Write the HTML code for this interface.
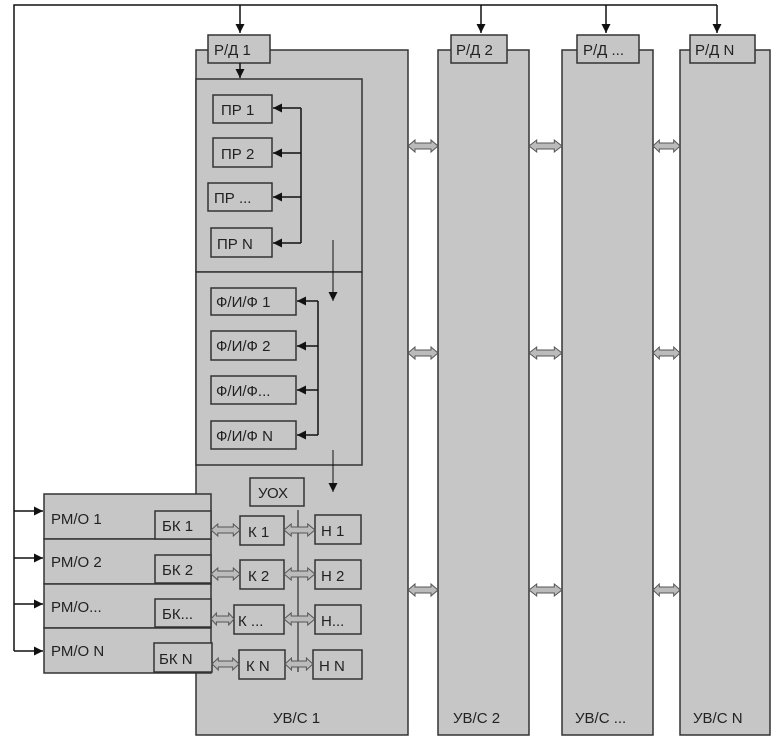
<!DOCTYPE html>
<html><head><meta charset="utf-8"><style>
html,body{margin:0;padding:0;background:#fff;}
svg{display:block;font-family:"Liberation Sans",sans-serif;}
text{font-size:15px;fill:#222;}
</style></head><body>
<svg width="779" height="742" viewBox="0 0 779 742">
<defs>
<marker id="ah" viewBox="0 0 10 10" refX="10" refY="5" markerWidth="9" markerHeight="9" markerUnits="userSpaceOnUse" orient="auto"><path d="M0,0 L10,5 L0,10 z" fill="#111"/></marker>
<path id="da" d="M0,0 L7,-6 L7,-3 L23,-3 L23,-6 L30,0 L23,6 L23,3 L7,3 L7,6 Z" fill="#bbb" stroke="#555" stroke-width="1" vector-effect="non-scaling-stroke"/>
</defs>
<g stroke="#111" stroke-width="1.5" fill="none">
<polyline points="14,651 14,5 717,5"/>
<line x1="240" y1="5" x2="240" y2="33" marker-end="url(#ah)"/>
<line x1="481" y1="5" x2="481" y2="33" marker-end="url(#ah)"/>
<line x1="606" y1="5" x2="606" y2="33" marker-end="url(#ah)"/>
<line x1="717" y1="5" x2="717" y2="33" marker-end="url(#ah)"/>
</g>
<g fill="#c6c6c6" stroke="#333" stroke-width="1.5">
<rect x="196" y="50" width="212" height="685"/>
<rect x="438" y="50" width="91" height="685"/>
<rect x="562" y="50" width="91" height="685"/>
<rect x="680" y="50" width="90" height="685"/>
<rect x="196" y="79" width="166" height="193"/>
<rect x="196" y="272" width="166" height="193"/>
<rect x="208" y="35" width="62" height="28"/>
<rect x="451" y="35" width="56" height="28"/>
<rect x="577" y="35" width="62" height="28"/>
<rect x="690" y="35" width="65" height="28"/>
<rect x="213" y="95" width="59" height="28"/>
<rect x="213" y="138" width="59" height="29"/>
<rect x="208" y="183" width="64" height="28"/>
<rect x="211" y="228" width="61" height="29"/>
<rect x="211" y="288" width="85" height="27"/>
<rect x="211" y="331" width="85" height="29"/>
<rect x="211" y="376" width="85" height="28"/>
<rect x="211" y="421" width="85" height="28"/>
<rect x="250" y="478" width="54" height="28"/>
<rect x="44" y="494" width="167" height="45"/>
<rect x="44" y="539" width="167" height="45"/>
<rect x="44" y="584" width="167" height="44"/>
<rect x="44" y="628" width="167" height="45"/>
<rect x="155" y="511" width="56" height="28"/>
<rect x="155" y="555" width="56" height="28"/>
<rect x="155" y="599" width="56" height="28"/>
<rect x="154" y="643" width="58" height="29"/>
<rect x="240" y="516" width="44" height="29"/>
<rect x="240" y="560" width="44" height="29"/>
<rect x="234" y="605" width="50" height="29"/>
<rect x="239" y="650" width="46" height="29"/>
<rect x="315" y="515" width="46" height="29"/>
<rect x="315" y="560" width="46" height="29"/>
<rect x="315" y="605" width="46" height="29"/>
<rect x="313" y="650" width="49" height="29"/>
</g>
<g stroke="#111" stroke-width="1.5" fill="none">
<line x1="240" y1="63" x2="240" y2="78" marker-end="url(#ah)"/>
<polyline points="301,108 301,243"/>
<line x1="301" y1="108" x2="273" y2="108" marker-end="url(#ah)"/>
<line x1="301" y1="153" x2="273" y2="153" marker-end="url(#ah)"/>
<line x1="301" y1="197" x2="273" y2="197" marker-end="url(#ah)"/>
<line x1="301" y1="243" x2="273" y2="243" marker-end="url(#ah)"/>
<line x1="333" y1="240" x2="333" y2="301" marker-end="url(#ah)" stroke-width="1"/>
<polyline points="318,301 318,435"/>
<line x1="318" y1="301" x2="297" y2="301" marker-end="url(#ah)"/>
<line x1="318" y1="346" x2="297" y2="346" marker-end="url(#ah)"/>
<line x1="318" y1="390" x2="297" y2="390" marker-end="url(#ah)"/>
<line x1="318" y1="435" x2="297" y2="435" marker-end="url(#ah)"/>
<line x1="333" y1="450" x2="333" y2="492" marker-end="url(#ah)" stroke-width="1"/>
<line x1="298" y1="510" x2="298" y2="672" stroke-width="1"/>
<line x1="14" y1="511" x2="43" y2="511" marker-end="url(#ah)"/>
<line x1="14" y1="558" x2="43" y2="558" marker-end="url(#ah)"/>
<line x1="14" y1="604" x2="43" y2="604" marker-end="url(#ah)"/>
<line x1="14" y1="651" x2="43" y2="651" marker-end="url(#ah)"/>
</g>
<g>
<use href="#da" transform="translate(408,146) scale(1,1)"/>
<use href="#da" transform="translate(529,146) scale(1.1,1)"/>
<use href="#da" transform="translate(653,146) scale(0.9,1)"/>
<use href="#da" transform="translate(408,353) scale(1,1)"/>
<use href="#da" transform="translate(529,353) scale(1.1,1)"/>
<use href="#da" transform="translate(653,353) scale(0.9,1)"/>
<use href="#da" transform="translate(408,590) scale(1,1)"/>
<use href="#da" transform="translate(529,590) scale(1.1,1)"/>
<use href="#da" transform="translate(653,590) scale(0.9,1)"/>
<use href="#da" transform="translate(211,530) scale(0.97,1)"/>
<use href="#da" transform="translate(211,574) scale(0.97,1)"/>
<use href="#da" transform="translate(211,619) scale(0.77,1)"/>
<use href="#da" transform="translate(212,664) scale(0.9,1)"/>
<use href="#da" transform="translate(284,530) scale(1.03,1)"/>
<use href="#da" transform="translate(284,574) scale(1.03,1)"/>
<use href="#da" transform="translate(284,619) scale(1.03,1)"/>
<use href="#da" transform="translate(285,664) scale(0.93,1)"/>
</g>
<g>
<text x="214" y="55">Р/Д  1</text>
<text x="456" y="55">Р/Д 2</text>
<text x="583" y="55">Р/Д ...</text>
<text x="695" y="55">Р/Д N</text>
<text x="221" y="115">ПР 1</text>
<text x="221" y="159">ПР 2</text>
<text x="214" y="203">ПР ...</text>
<text x="217" y="249">ПР N</text>
<text x="216" y="307">Ф/И/Ф  1</text>
<text x="216" y="351">Ф/И/Ф  2</text>
<text x="216" y="396">Ф/И/Ф...</text>
<text x="216" y="441">Ф/И/Ф  N</text>
<text x="258" y="498">УОХ</text>
<text x="51" y="524">РМ/О 1</text>
<text x="51" y="567">РМ/О 2</text>
<text x="51" y="612">РМ/О...</text>
<text x="51" y="656">РМ/О N</text>
<text x="162" y="531">БК 1</text>
<text x="162" y="575">БК 2</text>
<text x="162" y="619">БК...</text>
<text x="159" y="664">БК N</text>
<text x="248" y="537">К 1</text>
<text x="248" y="581">К 2</text>
<text x="238" y="626">К ...</text>
<text x="246" y="671">К N</text>
<text x="321" y="536">Н 1</text>
<text x="321" y="581">Н 2</text>
<text x="321" y="626">Н...</text>
<text x="319" y="671">Н N</text>
<text x="273" y="723">УВ/С 1</text>
<text x="453" y="723">УВ/С 2</text>
<text x="575" y="723">УВ/С ...</text>
<text x="693" y="723">УВ/С N</text>
</g>
</svg>
</body></html>
